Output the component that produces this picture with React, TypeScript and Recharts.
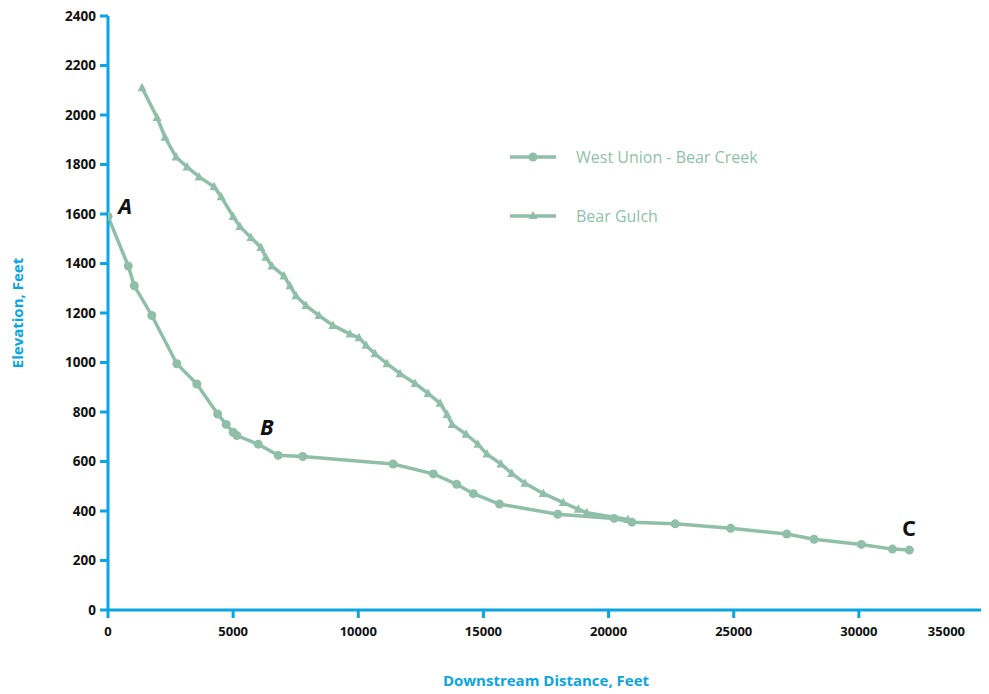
import { LineChart, Line, XAxis, YAxis, Legend, ReferenceDot } from "recharts";

const westUnionX = [0, 810, 1050, 1750, 2750, 3550, 4380, 4720, 5000, 5150, 6000, 6800, 7780, 11390, 13000, 13930, 14600, 15640, 17970, 20220, 20930, 22660, 24880, 27120, 28210, 30100, 31340, 32020];
const westUnionY = [1590, 1390, 1310, 1190, 995, 913, 792, 750, 718, 705, 670, 625, 620, 590, 550, 508, 470, 428, 387, 370, 355, 348, 330, 307, 286, 265, 246, 242];

const bearGulchX = [1360, 1960, 2280, 2720, 3160, 3640, 4240, 4520, 5000, 5270, 5710, 6110, 6310, 6550, 7030, 7270, 7510, 7910, 8430, 8990, 9670, 10030, 10310, 10670, 11150, 11670, 12270, 12790, 13270, 13550, 13750, 14310, 14780, 15140, 15700, 16130, 16660, 17390, 18190, 18790, 19130, 20780];
const bearGulchY = [2110, 1990, 1910, 1830, 1790, 1750, 1710, 1670, 1590, 1550, 1505, 1465, 1425, 1390, 1350, 1310, 1270, 1230, 1190, 1150, 1115, 1100, 1070, 1035, 995, 955, 915, 875, 835, 790, 750, 710, 670, 630, 590, 552, 512, 471, 434, 407, 393, 366];

const xTicks = [0, 5000, 10000, 15000, 20000, 25000, 30000, 35000];
const yTicks = [0, 200, 400, 600, 800, 1000, 1200, 1400, 1600, 1800, 2000, 2200, 2400];

const seriesNames = ["West Union - Bear Creek", "Bear Gulch"];
const pointLabels = ["A", "B", "C"];
const pointLabelX = [690, 6350, 32000];
const pointLabelY = [1630, 740, 330];

const westUnion = westUnionX.map((x, i) => ({ x, y: westUnionY[i] }));
const bearGulch = bearGulchX.map((x, i) => ({ x, y: bearGulchY[i] }));

const GREEN = "#8fbfa9";
const BLUE = "#0aa5e2";
const FONT = "Open Sans";

function Triangle(props: any) {
  const { cx, cy, index } = props;
  if (cx == null || cy == null) return null;
  return (
    <polygon
      key={"t" + index}
      points={`${cx},${cy - 5} ${cx + 4.5},${cy + 3.5} ${cx - 4.5},${cy + 3.5}`}
      fill={GREEN}
    />
  );
}

// last label on the x axis sits left of its tick, like the original
function XTick(props: any) {
  const { x, y, payload } = props;
  const last = payload.value === xTicks[xTicks.length - 1];
  return (
    <text
      x={last ? x - 4 : x}
      y={y + 16}
      textAnchor={last ? "end" : "middle"}
      fill="#111"
      fontSize={13}
      fontWeight={700}
      fontFamily={FONT}
    >
      {payload.value}
    </text>
  );
}

function LegendBox() {
  return (
    <div style={{ fontFamily: FONT, fontSize: 16, color: GREEN }}>
      {seriesNames.map((name, i) => (
        <div key={name} style={{ display: "flex", alignItems: "center", height: 24, marginBottom: i === 0 ? 35 : 0 }}>
          <svg width={60} height={20}>
            <line x1={0} y1={10} x2={46} y2={10} stroke={GREEN} strokeWidth={3.5} />
            {i === 0 ? (
              <circle cx={23} cy={10} r={4.5} fill={GREEN} />
            ) : (
              <polygon points="23,5 27.5,13 18.5,13" fill={GREEN} />
            )}
          </svg>
          <span style={{ marginLeft: 6 }}>{name}</span>
        </div>
      ))}
    </div>
  );
}

export default function App() {
  return (
    <LineChart width={981} height={684} margin={{ top: 8, right: 5, bottom: 0, left: 0 }}>
      <XAxis
        type="number"
        dataKey="x"
        domain={[0, 35000]}
        ticks={xTicks}
        allowDataOverflow
        stroke={BLUE}
        strokeWidth={3}
        tickSize={8}
        tick={<XTick />}
        height={82}
        label={{ value: "Downstream Distance, Feet", position: "insideBottom", offset: 6, fill: BLUE, fontSize: 15, fontWeight: 700, fontFamily: FONT }}
      />
      <YAxis
        type="number"
        dataKey="y"
        domain={[0, 2400]}
        ticks={yTicks}
        stroke={BLUE}
        strokeWidth={3}
        tickSize={8}
        tickMargin={4}
        tick={{ fill: "#111", fontSize: 13.5, fontWeight: 700, fontFamily: FONT }}
        width={100}
        label={{ value: "Elevation, Feet", angle: -90, position: "insideLeft", offset: 0, dx: 10, fill: BLUE, fontSize: 15, fontWeight: 700, fontFamily: FONT, style: { textAnchor: "middle" } }}
      />
      <Legend
        layout="vertical"
        align="center"
        verticalAlign="middle"
        content={<LegendBox />}
        wrapperStyle={{ top: 137, left: 502, width: 300 }}
      />
      <Line
        data={westUnion}
        dataKey="y"
        name={seriesNames[0]}
        stroke={GREEN}
        strokeWidth={3.5}
        dot={{ r: 4.5, fill: GREEN, stroke: "none" }}
        isAnimationActive={false}
      />
      <Line
        data={bearGulch}
        dataKey="y"
        name={seriesNames[1]}
        stroke={GREEN}
        strokeWidth={3.5}
        dot={<Triangle />}
        isAnimationActive={false}
      />
      {pointLabels.map((label, i) => (
        <ReferenceDot
          key={label}
          x={pointLabelX[i]}
          y={pointLabelY[i]}
          r={0}
          stroke="none"
          fill="none"
          label={{
            value: label,
            position: "center",
            fill: "#111",
            fontSize: 22,
            fontWeight: 700,
            fontStyle: i < 2 ? "italic" : "normal",
            fontFamily: FONT,
          }}
        />
      ))}
    </LineChart>
  );
}
